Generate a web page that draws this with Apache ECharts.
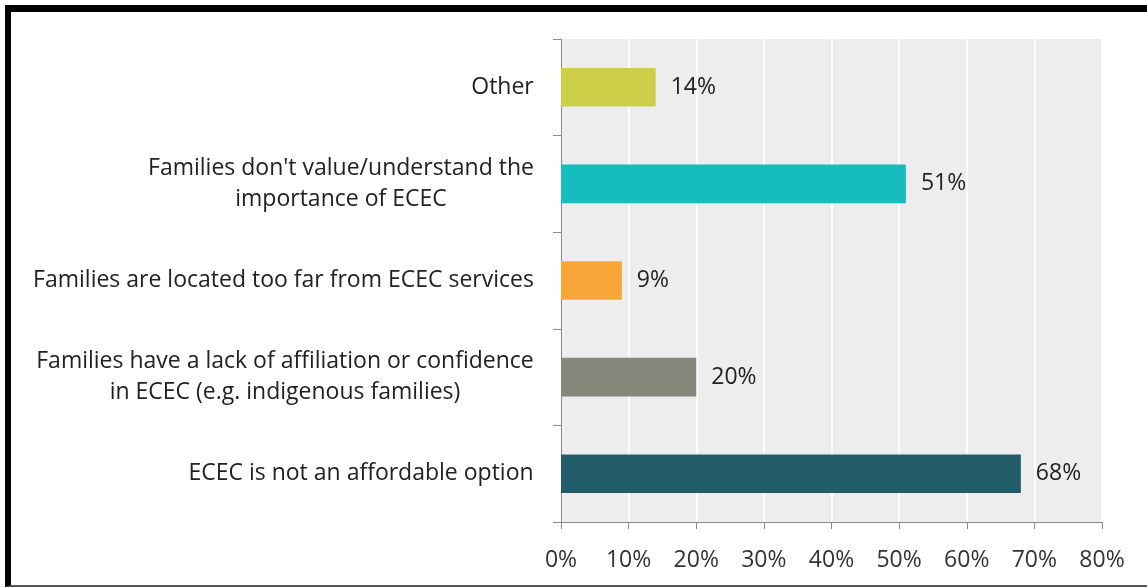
<!DOCTYPE html>
<html>
<head>
<meta charset="utf-8">
<script src="https://cdn.jsdelivr.net/npm/echarts@6/dist/echarts.min.js"></script>
<style>
  html, body { margin:0; padding:0; background:#fff; overflow:hidden; }
  #frame { position:absolute; left:5px; top:5px; width:1142px; height:582px;
           border-top:7px solid #000; border-left:6px solid #000; border-bottom:2px solid #555; box-sizing:border-box; }
  #chart { position:absolute; left:0; top:0; width:1147px; height:588px; }
</style>
</head>
<body>
<div id="frame"></div>
<div id="chart"></div>
<script>
const categories = [
  "ECEC is not an affordable option",
  "Families have a lack of affiliation or confidence\nin ECEC (e.g. indigenous families)",
  "Families are located too far from ECEC services",
  "Families don't value/understand the\nimportance of ECEC",
  "Other"
];
const values = [68, 20, 9, 51, 14];
const barColors = ["#235c69", "#85887a", "#f7a738", "#17bcbf", "#cccf47"];
const xTicks = [0, 10, 20, 30, 40, 50, 60, 70, 80];

const FONT = 'Open Sans';
const LABEL_SIZE = 23;
const NUM_SIZE = 23;
const ctx = document.createElement('canvas').getContext('2d');
ctx.font = LABEL_SIZE + 'px "' + FONT + '"';
function blockWidth(v) {
  const lines = v.split('\n');
  return Math.ceil(Math.max.apply(null, lines.map(l => ctx.measureText(l).width))) + 2;
}
function labelFormatter(v) {
  const w = blockWidth(v);
  return v.split('\n').map(l => '{c' + w + '|' + l + '}').join('\n');
}
const rich = {};
categories.forEach(c => {
  const w = blockWidth(c);
  rich['c' + w] = { width: w, align: 'center', fontFamily: FONT, fontSize: LABEL_SIZE, lineHeight: 31, color: '#222' };
});

const chart = echarts.init(document.getElementById('chart'));
chart.setOption({
  animation: false,
  grid: { left: 561, right: 45, top: 39, bottom: 66, show: true, backgroundColor: '#ededed', borderWidth: 0 },
  xAxis: {
    type: 'value', min: xTicks[0], max: xTicks[xTicks.length - 1], interval: 10,
    axisLine: { show: true, lineStyle: { color: '#8a8a8a', width: 1 } },
    axisTick: { show: true, length: 7, lineStyle: { color: '#8a8a8a' } },
    axisLabel: { formatter: '{value}%', color: '#333', fontFamily: FONT, fontSize: NUM_SIZE, margin: 27 },
    splitLine: { show: true, lineStyle: { color: '#ffffff', width: 1.5 } }
  },
  yAxis: {
    type: 'category', data: categories,
    axisLine: { show: true, lineStyle: { color: '#8a8a8a', width: 1 } },
    axisTick: { show: true, length: 8, lineStyle: { color: '#8a8a8a' } },
    axisLabel: { color: '#222', fontFamily: FONT, fontSize: LABEL_SIZE, lineHeight: 31, align: 'right', margin: 26,
      formatter: labelFormatter, rich: rich },
    splitLine: { show: false }
  },
  series: [{
    type: 'bar',
    data: values.map((v, i) => ({ value: v, itemStyle: { color: barColors[i] } })),
    barWidth: '40%',
    label: { show: true, position: 'right', distance: 15, formatter: '{c}%', color: '#222', fontFamily: FONT, fontSize: NUM_SIZE }
  }]
});
</script>
</body>
</html>
